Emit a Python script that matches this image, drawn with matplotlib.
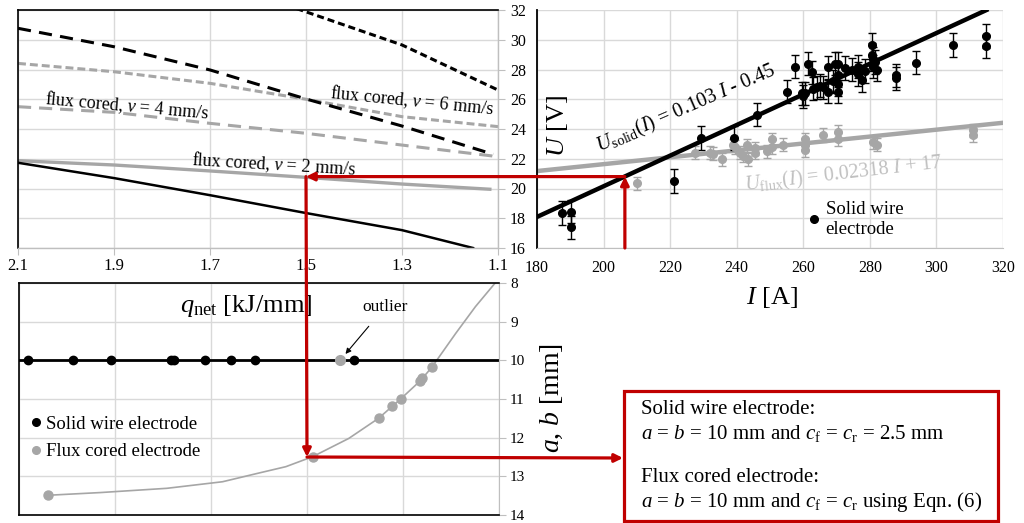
import matplotlib
matplotlib.use('Agg')
import matplotlib.pyplot as plt
from matplotlib.patches import ConnectionPatch, Rectangle
from matplotlib.lines import Line2D
import numpy as np

plt.rcParams['font.family'] = ['Liberation Serif', 'DejaVu Serif']
plt.rcParams['mathtext.fontset'] = 'custom'
plt.rcParams['mathtext.rm'] = 'Liberation Serif'
plt.rcParams['mathtext.it'] = 'Liberation Serif:italic'
plt.rcParams['mathtext.bf'] = 'Liberation Serif:bold'

# ---------------- data: top-left panel (U vs q_net) ----------------
q_ticks = [2.1, 1.9, 1.7, 1.5, 1.3, 1.1]
U_ticks = [16, 18, 20, 22, 24, 26, 28, 30, 32]

solid_v2_q = [2.1, 1.9, 1.7, 1.5, 1.3, 1.152]
solid_v2_U = [21.73, 20.7, 19.55, 18.35, 17.2, 16.0]

flux_v2_q = [2.1, 1.9, 1.7, 1.5, 1.3, 1.117]
flux_v2_U = [21.87, 21.58, 21.18, 20.75, 20.3, 19.95]

solid_v4_q = [2.1, 1.9, 1.7, 1.5, 1.3, 1.11]
solid_v4_U = [30.77, 29.53, 27.97, 26.02, 24.2, 22.3]

solid_v6_q = [1.52, 1.3, 1.1]
solid_v6_U = [32.1, 29.65, 26.62]

flux_v6_q = [2.1, 1.9, 1.7, 1.5, 1.3, 1.1]
flux_v6_U = [28.41, 27.85, 27.07, 26.0, 24.83, 24.16]

flux_v4_q = [2.1, 1.9, 1.7, 1.5, 1.3, 1.1]
flux_v4_U = [25.5, 25.12, 24.38, 23.71, 22.92, 22.14]

# ---------------- data: top-right panel (U vs I) ----------------
I_ticks = [180, 200, 220, 240, 260, 280, 300, 320]

solid_I = [187.4, 190.2, 190.2, 221.2, 229.3, 239.3, 246.0, 255.2, 257.5, 259.5,
           260.0, 260.5, 261.5, 262.5, 263.0, 264.0, 265.0, 266.0, 267.5, 267.5,
           269.0, 269.5, 270.5, 270.5, 270.5, 270.5, 272.5, 274.5, 276.5, 276.5,
           277.5, 278.5, 280.5, 280.5, 281.0, 281.5, 282.0, 281.0, 288.0, 288.0,
           294.0, 305.0, 315.0, 315.0]
solid_U = [18.35, 18.45, 17.4, 20.5, 23.4, 23.4, 24.95, 26.5, 28.2, 26.4,
           26.2, 26.4, 28.4, 27.8, 26.7, 26.8, 26.9, 26.8, 26.5, 28.15,
           27.2, 28.4, 28.4, 27.6, 27.0, 26.5, 28.1, 28.0, 28.2, 27.7,
           27.3, 27.9, 29.65, 29.0, 28.7, 28.5, 28.0, 28.2, 27.6, 27.4,
           28.45, 29.65, 30.25, 29.55]
solid_err = 0.78

flux_I = [209.9, 227.5, 232.0, 233.0, 235.5, 239.0, 239.5, 241.0, 242.0, 243.0,
          243.5, 245.5, 245.5, 249.0, 250.5, 250.5, 254.0, 260.5, 260.5, 260.5,
          266.0, 270.5, 270.5, 281.0, 282.0, 311.0, 311.0]
flux_U = [20.35, 22.4, 22.4, 22.35, 21.95, 22.9, 22.8, 22.4, 22.2, 22.9,
          21.95, 22.7, 22.4, 22.5, 23.3, 22.8, 22.95, 23.3, 22.95, 22.6,
          23.6, 23.8, 23.3, 23.1, 22.95, 23.9, 23.6]
flux_err = 0.45

solid_fit = (0.103, -0.45)      # slope, intercept
solid_fit_range = [180, 315]
flux_fit = (0.02318, 17.0)
flux_fit_range = [180, 320]

# ---------------- data: bottom-left panel (a, b vs q_net) ----------------
ab_ticks = [8, 9, 10, 11, 12, 13, 14]
solid_ab_q = [2.081, 1.988, 1.909, 1.783, 1.778, 1.713, 1.659, 1.609, 1.402]
solid_ab = [10, 10, 10, 10, 10, 10, 10, 10, 10]
solid_ab_line_q = [2.1, 1.1]
solid_ab_line = [10, 10]
outlier_q = [1.431]
outlier_ab = [10]
flux_ab_q = [2.040, 1.488, 1.351, 1.322, 1.305, 1.264, 1.260, 1.240]
flux_ab = [13.49, 12.49, 11.50, 11.18, 11.0, 10.53, 10.46, 10.18]
flux_curve_q = [2.040, 1.931, 1.792, 1.676, 1.602, 1.544, 1.488, 1.413, 1.351,
                1.305, 1.264, 1.240, 1.190, 1.149, 1.108, 1.09]
flux_curve_ab = [13.49, 13.42, 13.31, 13.14, 12.92, 12.75, 12.49, 12.02, 11.50,
                 11.0, 10.53, 10.18, 9.30, 8.61, 8.0, 7.7]

# red path values
I_read = 206.4
U_read = 20.8
q_read = 1.5
ab_read = 12.5

# ---------------- styles ----------------
W, H = 1024, 523
GRAY = '#A6A6A6'
LGRAY = '#C0C0C0'
GRID = '#D9D9D9'
AXG = '#BFBFBF'
RED = '#C00000'

fig = plt.figure(figsize=(W / 100, H / 100), dpi=100)


def rect(l, t, r, b):
    return [l / W, 1 - b / H, (r - l) / W, (b - t) / H]


def fpt(x, y):
    return (x / W, 1 - y / H)


# ================= top-left =================
ax_tl = fig.add_axes(rect(18, 10, 498, 248))
ax_tl.set_xlim(2.1, 1.1)
ax_tl.set_ylim(16, 32)
ax_tl.set_xticks(q_ticks)
ax_tl.set_xticklabels([f'{v:.1f}' for v in q_ticks])
ax_tl.set_yticks(U_ticks)
ax_tl.yaxis.tick_right()
ax_tl.tick_params(axis='y', labelright=False, direction='out', length=5, color=AXG)
ax_tl.tick_params(axis='x', direction='out', length=5, color=AXG, labelsize=12, pad=2)
ax_tl.grid(True, color=GRID, lw=1)
ax_tl.set_axisbelow(True)
for s in ['left', 'top']:
    ax_tl.spines[s].set_color('black'); ax_tl.spines[s].set_linewidth(1.2)
for s in ['bottom', 'right']:
    ax_tl.spines[s].set_color(AXG); ax_tl.spines[s].set_linewidth(1)

ax_tl.plot(flux_v6_q, flux_v6_U, color=GRAY, lw=2.2, dashes=(2.6, 1.3))
ax_tl.plot(flux_v4_q, flux_v4_U, color=GRAY, lw=2.2, dashes=(4.3, 2.6))
ax_tl.plot(flux_v2_q, flux_v2_U, color=GRAY, lw=2.4)
ax_tl.plot(solid_v6_q, solid_v6_U, color='black', lw=2.2, dashes=(2.3, 1.3))
ax_tl.plot(solid_v4_q, solid_v4_U, color='black', lw=2.2, dashes=(4.3, 2.7))
ax_tl.plot(solid_v2_q, solid_v2_U, color='black', lw=1.8)

for (x, y, rot, lab) in [(126.7, 106, -5.1, r'flux cored, $v$ = 4 mm/s'),
                         (411.7, 100.5, -5.7, r'flux cored, $v$ = 6 mm/s'),
                         (274, 164.5, -3.4, r'flux cored, $v$ = 2 mm/s')]:
    fig.text(*fpt(x, y), lab, fontsize=13, rotation=rot, rotation_mode='anchor',
             ha='center', va='center')

# ================= top-right =================
ax_tr = fig.add_axes(rect(537, 10, 1003, 248))
ax_tr.set_xlim(180, 320)
ax_tr.set_ylim(16, 32)
ax_tr.set_xticks(I_ticks)
ax_tr.set_yticks(U_ticks)
ax_tr.tick_params(axis='both', length=0, labelsize=11.5)
ax_tr.tick_params(axis='x', pad=9)
ax_tr.tick_params(axis='y', pad=8)
ax_tr.grid(True, color=GRID, lw=1)
ax_tr.set_axisbelow(True)
ax_tr.spines['left'].set_color('black'); ax_tr.spines['left'].set_linewidth(1.3)
ax_tr.spines['bottom'].set_color(AXG)
ax_tr.spines['top'].set_visible(False)
ax_tr.spines['right'].set_visible(False)

ax_tr.errorbar(flux_I, flux_U, yerr=flux_err, fmt='o', color=GRAY, ms=5.5,
               capsize=3, elinewidth=1, capthick=1)
fx = np.array(flux_fit_range)
ax_tr.plot(fx, flux_fit[0] * fx + flux_fit[1], color=GRAY, lw=3.2)
ax_tr.errorbar(solid_I, solid_U, yerr=solid_err, fmt='o', color='black', ms=5.5,
               capsize=3, elinewidth=1, capthick=1)
sx = np.array(solid_fit_range)
ax_tr.plot(sx, solid_fit[0] * sx + solid_fit[1], color='black', lw=3.2)

fig.text(*fpt(686, 109), r'$U_{\mathrm{solid}}(I)$ = 0.103 $I$ - 0.45', fontsize=14.5,
         rotation=23.6, rotation_mode='anchor', ha='center', va='center')
fig.text(*fpt(844, 174), r'$U_{\mathrm{flux}}(I)$ = 0.02318 $I$ + 17', fontsize=14.5,
         color=LGRAY, rotation=6.5, rotation_mode='anchor', ha='center', va='center')
fig.text(*fpt(558, 126), r'$U$ [V]', fontsize=19, rotation=90, ha='center', va='center')
fig.text(*fpt(772, 297), r'$I$ [A]', fontsize=19, ha='center', va='center')

leg = ax_tr.legend(handles=[Line2D([], [], marker='o', color='black', ls='none', ms=5.5)],
                   labels=['Solid wire\nelectrode'], loc='upper left',
                   bbox_to_anchor=(0.583, 0.197), frameon=False, fontsize=13.5,
                   handlelength=0.6, handletextpad=0.3, borderpad=0, borderaxespad=0)

# ================= bottom-left =================
ax_bl = fig.add_axes(rect(19, 283, 499, 515))
ax_bl.set_xlim(2.1, 1.1)
ax_bl.set_ylim(14, 8)
ax_bl.set_xticks(q_ticks)
ax_bl.set_yticks(ab_ticks)
ax_bl.tick_params(axis='x', length=0, labelbottom=False)
ax_bl.yaxis.tick_right()
ax_bl.tick_params(axis='y', direction='out', length=5, color=AXG, labelsize=11, pad=3)
ax_bl.grid(True, color=GRID, lw=1)
ax_bl.set_axisbelow(True)
for s in ['left', 'top', 'bottom']:
    ax_bl.spines[s].set_color('black'); ax_bl.spines[s].set_linewidth(1.2)
ax_bl.spines['right'].set_color(AXG)

ax_bl.plot(flux_curve_q, flux_curve_ab, color=GRAY, lw=1.2)
ax_bl.plot(solid_ab_line_q, solid_ab_line, color='black', lw=2)
ax_bl.plot(solid_ab_q, solid_ab, 'o', color='black', ms=6)
ax_bl.plot(outlier_q, outlier_ab, 'o', color=GRAY, ms=7)
ax_bl.plot(flux_ab_q, flux_ab, 'o', color=GRAY, ms=6.5)

ax_bl.annotate('outlier', xy=(outlier_q[0], outlier_ab[0]), xytext=(fpt(385, 307)),
               textcoords='figure fraction', fontsize=12.5, ha='center', va='center',
               arrowprops=dict(arrowstyle='-|>', color='black', lw=0.8,
                               mutation_scale=8, shrinkA=8, shrinkB=6))

ax_bl.legend(handles=[Line2D([], [], marker='o', color='black', ls='none', ms=5.5),
                      Line2D([], [], marker='o', color=GRAY, ls='none', ms=5.5)],
             labels=['Solid wire electrode', 'Flux cored electrode'],
             loc='upper left', bbox_to_anchor=(0.017, 0.445), frameon=False,
             fontsize=13.5, handlelength=0.5, handletextpad=0.3, borderpad=0.2,
             labelspacing=0.55, borderaxespad=0)

fig.text(*fpt(246, 306), r'$q_{\mathrm{net}}$ [kJ/mm]', fontsize=19, ha='center', va='center')
fig.text(*fpt(552, 398), r'$a$, $b$ [mm]', fontsize=20, rotation=90, ha='center', va='center')

# ================= red reading path =================
arrow_kw = dict(color=RED, lw=2.3, arrowstyle='-|>', mutation_scale=12,
                shrinkA=0, shrinkB=0, zorder=10)
c1 = ConnectionPatch(xyA=(I_read, 16), coordsA=ax_tr.transData,
                     xyB=(I_read, U_read), coordsB=ax_tr.transData, **arrow_kw)
c2 = ConnectionPatch(xyA=(I_read, U_read), coordsA=ax_tr.transData,
                     xyB=(q_read, U_read), coordsB=ax_tl.transData, **arrow_kw)
c3 = ConnectionPatch(xyA=(q_read, U_read), coordsA=ax_tl.transData,
                     xyB=(q_read, ab_read), coordsB=ax_bl.transData, **arrow_kw)
c4 = ConnectionPatch(xyA=(q_read, ab_read), coordsA=ax_bl.transData,
                     xyB=fpt(623, 458), coordsB=fig.transFigure, **arrow_kw)
for c in (c1, c2, c3, c4):
    fig.add_artist(c)

box = Rectangle(fpt(624, 521), 374 / W, 130 / H, transform=fig.transFigure,
                fill=False, edgecolor=RED, lw=2.3, zorder=10)
fig.add_artist(box)

box_lines = [(410, 'Solid wire electrode:'),
             (433, r'$a$ = $b$ = 10 mm and $c_{\mathrm{f}}$ = $c_{\mathrm{r}}$ = 2.5 mm'),
             (478, 'Flux cored electrode:'),
             (502, r'$a$ = $b$ = 10 mm and $c_{\mathrm{f}}$ = $c_{\mathrm{r}}$ using Eqn. (6)')]
for y, t in box_lines:
    fig.text(*fpt(641, y), t, fontsize=15, ha='left', va='center')

fig.savefig('out.png', dpi=100)
